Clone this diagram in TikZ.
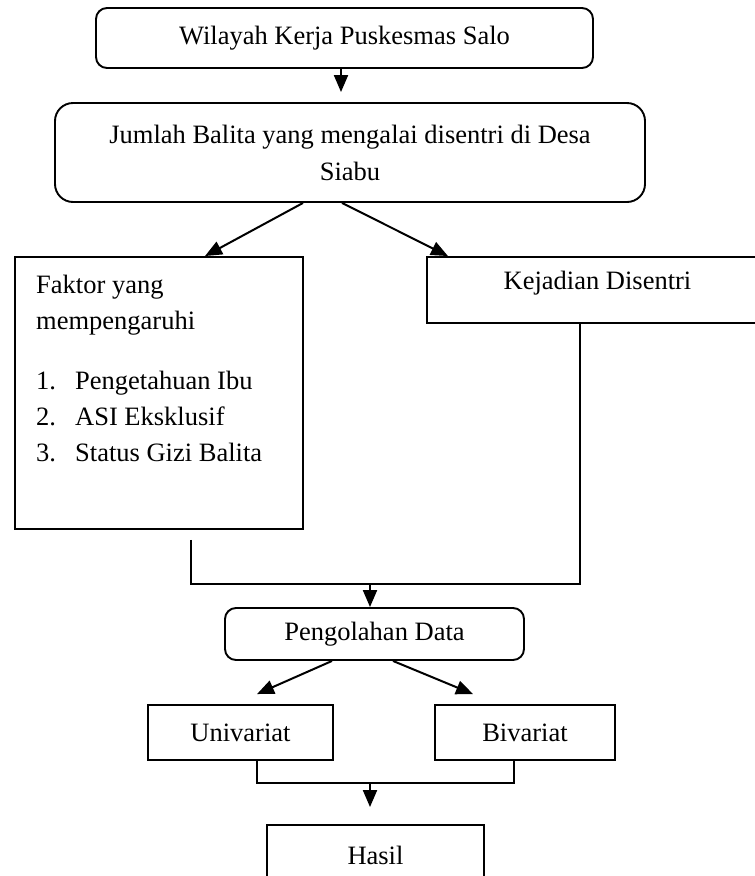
\documentclass[tikz,border=0pt]{standalone}
\usepackage{fontspec}
\setmainfont{Liberation Serif}
\usetikzlibrary{arrows.meta}

\tikzset{
  box/.style={draw, line width=1.9pt, inner sep=0pt, font=\fontsize{26.5}{36}\selectfont},
  roundbox/.style={box, rounded corners=11pt},
  arr/.style={line width=2pt, -{Triangle[length=17pt,width=14pt]}},
  link/.style={line width=1.9pt},
}

\begin{document}
\begin{tikzpicture}[x=1pt,y=-1pt]
  \useasboundingbox (0,0) rectangle (755,876);
  \clip (0,0) rectangle (755,876);

  % boxes
  \node[roundbox, minimum width=497pt, minimum height=60pt] (wilayah) at (344.5,38) {Wilayah Kerja Puskesmas Salo};
  \node[roundbox, rounded corners=18pt, minimum width=590pt, minimum height=99pt, align=center,
        font=\fontsize{26.5}{37}\selectfont] (jumlah) at (350,152.5)
        {Jumlah Balita yang mengalai disentri di Desa\\Siabu};
  \node[box, minimum width=288pt, minimum height=272pt] (faktor) at (159,393) {};
  \node[anchor=north west, inner sep=0pt, align=left, font=\fontsize{26.5}{36}\selectfont] (faktorlist) at (36,275)
        {Faktor yang\\mempengaruhi\\[24pt]
         \makebox[39pt][l]{1.}Pengetahuan Ibu\\
         \makebox[39pt][l]{2.}ASI Eksklusif\\
         \makebox[39pt][l]{3.}Status Gizi Balita};
  \node[box, minimum width=341pt, minimum height=66pt, text depth=20pt] (kejadian) at (597.5,290) {Kejadian Disentri};
  \node[roundbox, minimum width=299pt, minimum height=52pt] (olah) at (374.5,634) {Pengolahan Data};
  \node[box, minimum width=185pt, minimum height=55pt] (uni) at (240.5,732.5) {Univariat};
  \node[box, minimum width=180pt, minimum height=55pt] (bi) at (525,732.5) {Bivariat};
  \node[box, minimum width=217pt, minimum height=60pt] (hasil) at (375.5,855) {Hasil};

  % junctions
  \coordinate (join) at (370,584);
  \coordinate (join2) at (370,783);

  % connectors
  \draw[arr, shorten >=10pt] ([xshift=-3.5pt]wilayah.south) -- ([xshift=-3.5pt]wilayah.south |- jumlah.north);
  \draw[arr] ([xshift=-47pt]jumlah.south) -- ([xshift=46pt]faktor.north);
  \draw[arr] ([xshift=-8pt]jumlah.south) -- ([xshift=-149.5pt]kejadian.north);
  \draw[link] ([xshift=32pt,yshift=-10pt]faktor.south) |- (join) -| ([xshift=-17.5pt]kejadian.south);
  \draw[arr] (join) -- (join |- olah.north);
  \draw[arr] ([xshift=-42.5pt]olah.south) -- ([xshift=16.5pt,yshift=10pt]uni.north);
  \draw[arr] ([xshift=18.5pt]olah.south) -- ([xshift=-52pt,yshift=10pt]bi.north);
  \draw[link] ([xshift=16.5pt]uni.south) |- (join2) -| ([xshift=-11pt]bi.south);
  \draw[arr, shorten >=17pt] (join2) -- (join2 |- hasil.north);
\end{tikzpicture}
\end{document}
